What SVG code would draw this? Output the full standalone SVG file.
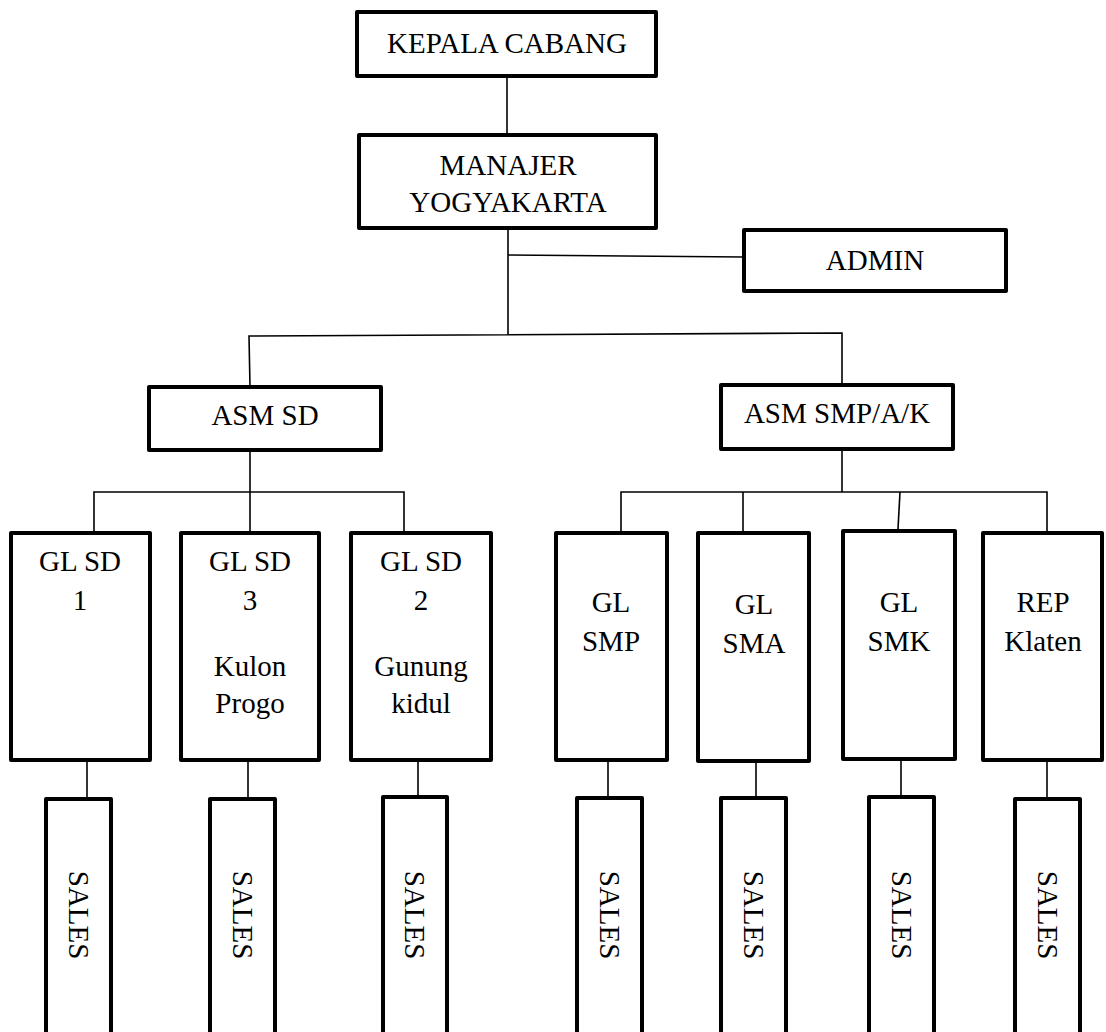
<svg xmlns="http://www.w3.org/2000/svg" width="1106" height="1032" viewBox="0 0 1106 1032">
  <style>
    .box { fill: #ffffff; stroke: #000000; stroke-width: 4; stroke-linejoin: round; }
    .link { fill: none; stroke: #000000; stroke-width: 1.6; }
    .lbl { font-family: 'Liberation Serif', 'DejaVu Serif', serif; font-size: 29px; fill: #000000; text-anchor: middle; }
  </style>
  <rect width="1106" height="1032" fill="#ffffff"/>

  <!-- connectors -->
  <g id="connectors">
    <path class="link" d="M507,78 L507,135"/>
    <path class="link" d="M508,230 L508,335"/>
    <path class="link" d="M508,255 L744,257"/>
    <path class="link" d="M250,387 L249,336 L842,333 L842,385"/>
    <!-- ASM SD branch -->
    <path class="link" d="M250,452 L250,531"/>
    <path class="link" d="M94,531 L94,492 L404,492 L404,531"/>
    <!-- ASM SMP/A/K branch -->
    <path class="link" d="M842,451 L842,492"/>
    <path class="link" d="M621,531 L621,492 L1047,492 L1047,531"/>
    <path class="link" d="M743,492 L743,531"/>
    <path class="link" d="M900,492 L898,529"/>
    <!-- GL to SALES -->
    <path class="link" d="M87,762 L87,797"/>
    <path class="link" d="M248,762 L248,797"/>
    <path class="link" d="M418,762 L418,795"/>
    <path class="link" d="M608,762 L608,796"/>
    <path class="link" d="M756,763 L756,796"/>
    <path class="link" d="M901,761 L901,795"/>
    <path class="link" d="M1047,761 L1047,797"/>
  </g>

  <g id="kepala-cabang">
    <rect class="box" x="357" y="12" width="299" height="64"/>
    <text class="lbl" x="507" y="53">KEPALA CABANG</text>
  </g>

  <g id="manajer">
    <rect class="box" x="359" y="135" width="297" height="93"/>
    <text class="lbl" x="508" y="175">MANAJER</text>
    <text class="lbl" x="508" y="212">YOGYAKARTA</text>
  </g>

  <g id="admin">
    <rect class="box" x="744" y="230" width="262" height="61"/>
    <text class="lbl" x="875" y="270">ADMIN</text>
  </g>

  <g id="asm-sd">
    <rect class="box" x="149" y="387" width="232" height="63"/>
    <text class="lbl" x="265" y="425">ASM SD</text>
  </g>

  <g id="asm-smp">
    <rect class="box" x="721" y="385" width="232" height="64"/>
    <text class="lbl" x="837" y="423">ASM SMP/A/K</text>
  </g>

  <g id="gl-sd-1">
    <rect class="box" x="11" y="533" width="139" height="227"/>
    <text class="lbl" x="80" y="571">GL SD</text>
    <text class="lbl" x="80" y="610">1</text>
  </g>

  <g id="gl-sd-3">
    <rect class="box" x="181" y="533" width="138" height="227"/>
    <text class="lbl" x="250" y="571">GL SD</text>
    <text class="lbl" x="250" y="610">3</text>
    <text class="lbl" x="250" y="676">Kulon</text>
    <text class="lbl" x="250" y="713">Progo</text>
  </g>

  <g id="gl-sd-2">
    <rect class="box" x="351" y="533" width="140" height="227"/>
    <text class="lbl" x="421" y="571">GL SD</text>
    <text class="lbl" x="421" y="610">2</text>
    <text class="lbl" x="421" y="676">Gunung</text>
    <text class="lbl" x="421" y="713">kidul</text>
  </g>

  <g id="gl-smp">
    <rect class="box" x="556" y="533" width="111" height="227"/>
    <text class="lbl" x="611" y="612">GL</text>
    <text class="lbl" x="611" y="651">SMP</text>
  </g>

  <g id="gl-sma">
    <rect class="box" x="698" y="533" width="111" height="228"/>
    <text class="lbl" x="754" y="614">GL</text>
    <text class="lbl" x="754" y="653">SMA</text>
  </g>

  <g id="gl-smk">
    <rect class="box" x="843" y="531" width="112" height="228"/>
    <text class="lbl" x="899" y="612">GL</text>
    <text class="lbl" x="899" y="651">SMK</text>
  </g>

  <g id="rep-klaten">
    <rect class="box" x="983" y="533" width="119" height="227"/>
    <text class="lbl" x="1043" y="612">REP</text>
    <text class="lbl" x="1043" y="651">Klaten</text>
  </g>

  <!-- sales boxes run off the bottom edge -->
  <g id="sales-1">
    <rect class="box" x="46" y="799" width="65" height="260"/>
    <text class="lbl" x="78.5" y="924.6" transform="rotate(90 78.5 915)">SALES</text>
  </g>
  <g id="sales-2">
    <rect class="box" x="210" y="799" width="65" height="260"/>
    <text class="lbl" x="242.5" y="924.6" transform="rotate(90 242.5 915)">SALES</text>
  </g>
  <g id="sales-3">
    <rect class="box" x="383" y="797" width="64" height="260"/>
    <text class="lbl" x="415" y="924.6" transform="rotate(90 415 915)">SALES</text>
  </g>
  <g id="sales-4">
    <rect class="box" x="577" y="798" width="65" height="260"/>
    <text class="lbl" x="609.5" y="924.6" transform="rotate(90 609.5 915)">SALES</text>
  </g>
  <g id="sales-5">
    <rect class="box" x="721" y="798" width="65" height="260"/>
    <text class="lbl" x="753.5" y="924.6" transform="rotate(90 753.5 915)">SALES</text>
  </g>
  <g id="sales-6">
    <rect class="box" x="869" y="797" width="65" height="260"/>
    <text class="lbl" x="901.5" y="924.6" transform="rotate(90 901.5 915)">SALES</text>
  </g>
  <g id="sales-7">
    <rect class="box" x="1015" y="799" width="65" height="260"/>
    <text class="lbl" x="1047.5" y="924.6" transform="rotate(90 1047.5 915)">SALES</text>
  </g>
</svg>
